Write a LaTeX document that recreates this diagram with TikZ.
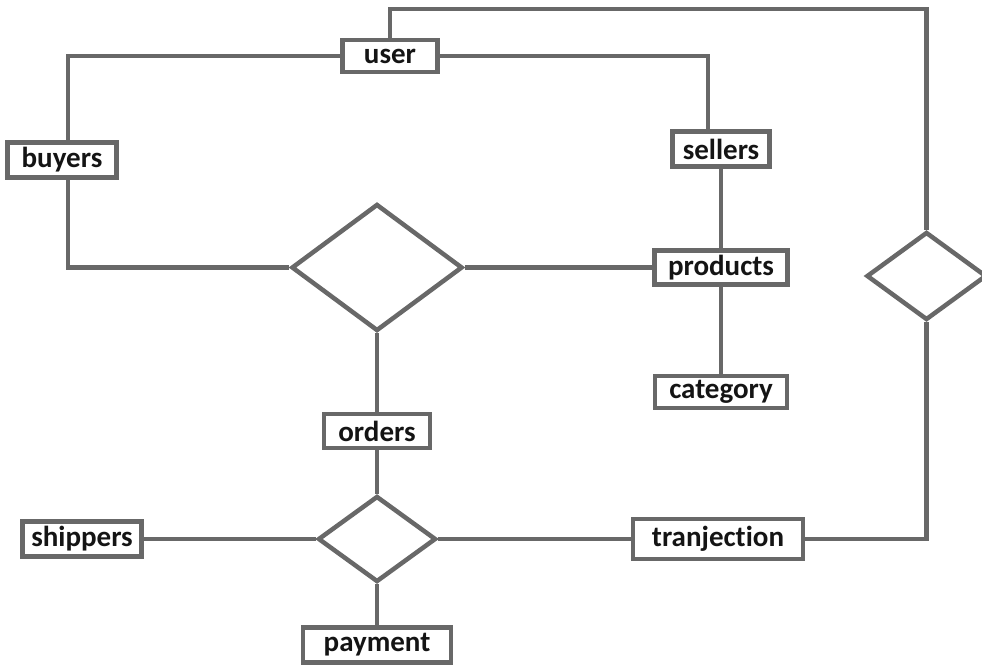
\documentclass[tikz,border=0pt]{standalone}
\usepackage{fontspec}
\setmainfont[Ligatures=NoCommon]{Carlito}
\usetikzlibrary{shapes.geometric}
\definecolor{linegray}{RGB}{104,104,104}
\definecolor{textblack}{RGB}{20,20,20}
\tikzset{
	entity/.style={draw=linegray, line width=0.09cm, fill=white, text=textblack,
		minimum height=0.68cm, inner sep=0pt, font=\fontsize{16.5}{18}\selectfont\bfseries},
	relation/.style={draw=linegray, line width=0.09cm, fill=white, shape=diamond,
		inner sep=0pt},
	link/.style={draw=linegray, line width=0.09cm}
}

\begin{document}
\begin{tikzpicture}
			%%%%% START %%%%%
			
			\useasboundingbox (0, 0) rectangle (19.64, -13.36);
			
			\node[relation, minimum width=3.42cm, minimum height=2.54cm] (rel1) at (7.54, -5.35) {};
			\node[relation, minimum width=2.36cm, minimum height=1.72cm] (rel2) at (7.54, -10.78) {};
			\node[relation, minimum width=2.40cm, minimum height=1.76cm] (rel3) at (18.53, -5.52) {};
			
			\node[entity, minimum width=1.90cm, minimum height=0.64cm] (user) at (7.80, -1.12) {user};
			\node[entity, minimum width=2.18cm, minimum height=0.70cm] (buyers) at (1.24, -3.20) {buyers};
			\node[entity, minimum width=1.94cm, minimum height=0.70cm] (sellers) at (14.42, -2.98) {sellers};
			\node[entity, minimum width=2.66cm] (products) at (14.42, -5.35) {products};
			\node[entity, minimum width=2.64cm, minimum height=0.64cm] (category) at (14.42, -7.84) {category};
			\node[entity, minimum width=2.12cm] (orders) at (7.54, -8.62) {orders};
			\node[entity, minimum width=2.38cm, minimum height=0.70cm] (shippers) at (1.64, -10.78) {shippers};
			\node[entity, minimum width=3.40cm, minimum height=0.80cm] (tranjection) at (14.36, -10.78) {tranjection};
			\node[entity, minimum width=2.96cm, minimum height=0.70cm] (payment) at (7.54, -12.90) {payment};
			
			\draw[link] (user.north) -- ++(0, 0.58) -| (rel3.north);
			\draw[link] (user.west) -| ([xshift=0.12cm]buyers.north);
			\draw[link] (user.east) -| ([xshift=-0.26cm]sellers.north);
			\draw[link] ([xshift=0.12cm]buyers.south) |- (rel1.west);
			\draw[link] (rel1.east) -- (products.west);
			\draw[link] (sellers.south) -- (products.north);
			\draw[link] (products.south) -- (category.north);
			\draw[link] (rel1.south) -- (orders.north);
			\draw[link] (orders.south) -- (rel2.north);
			\draw[link] (rel2.west) -- (shippers.east);
			\draw[link] (rel2.east) -- (tranjection.west);
			\draw[link] (rel2.south) -- (payment.north);
			\draw[link] (tranjection.east) -| (rel3.south);
			
			%%%%% END %%%%%
		\end{tikzpicture}
\end{document}
